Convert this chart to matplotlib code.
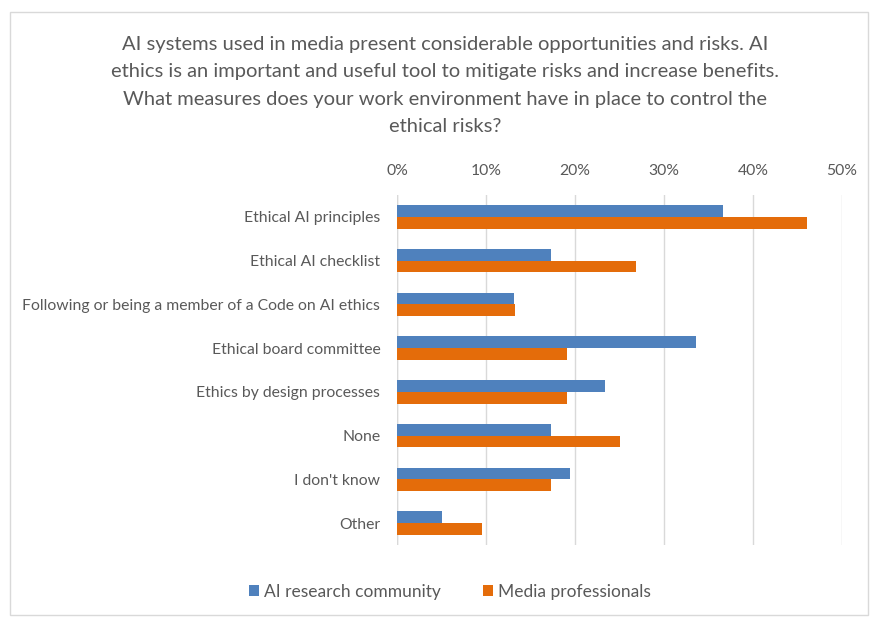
import matplotlib.pyplot as plt
import numpy as np
from matplotlib.patches import Rectangle

plt.rcParams['font.family'] = ['Lato', 'DejaVu Sans']

categories = [
    "Ethical AI principles",
    "Ethical AI checklist",
    "Following or being a member of a Code on AI ethics",
    "Ethical board committee",
    "Ethics by design processes",
    "None",
    "I don't know",
    "Other",
]
ai_research = [36.6, 17.3, 13.2, 33.6, 23.4, 17.3, 19.4, 5.0]
media_prof = [46.1, 26.8, 13.3, 19.1, 19.1, 25.0, 17.3, 9.6]
xticks = [0, 10, 20, 30, 40, 50]

blue = "#4f81bd"
orange = "#e46c0a"
text_col = "#595959"

fig = plt.figure(figsize=(8.71, 6.19), dpi=100)
fig.patches.append(Rectangle((10 / 871, 4 / 619), 858 / 871, 603 / 619,
                             transform=fig.transFigure, fill=False,
                             edgecolor="#d9d9d9", lw=1))

ax = fig.add_axes([397 / 871, 1 - 545 / 619, 445 / 871, 350 / 619])
y = np.arange(len(categories))
h = 0.27
ax.barh(y - h / 2, ai_research, height=h, color=blue, label="AI research community")
ax.barh(y + h / 2, media_prof, height=h, color=orange, label="Media professionals")

ax.set_xlim(0, 50)
ax.set_ylim(len(categories) - 0.5, -0.5)
ax.set_xticks(xticks)
ax.set_xticklabels([f"{t}%" for t in xticks])
ax.xaxis.tick_top()
ax.set_yticks(y)
ax.set_yticklabels(categories)
ax.tick_params(axis="both", length=0, colors=text_col, labelsize=11.3)
ax.tick_params(axis="x", pad=12)
ax.tick_params(axis="y", pad=12)
ax.grid(axis="x", color="#d9d9d9", lw=1)
ax.set_axisbelow(True)
for s in ax.spines.values():
    s.set_visible(False)
ax.axvline(0, color="#d9d9d9", lw=1, zorder=0)

fig.text(445 / 871, 1 - 36 / 619,
         "AI systems used in media present considerable opportunities and risks. AI\n"
         "ethics is an important and useful tool to mitigate risks and increase benefits.\n"
         "What measures does your work environment have in place to control the\n"
         "ethical risks?",
         ha="center", va="top", fontsize=14.5, color=text_col, linespacing=1.75)

fig.legend(loc="center", bbox_to_anchor=(450 / 871, 1 - 592 / 619), ncol=2,
           frameon=False, fontsize=12.5, labelcolor=text_col, handlelength=0.6,
           handleheight=0.6, handletextpad=0.3, columnspacing=2.4)

fig.savefig("out.png", dpi=100)
